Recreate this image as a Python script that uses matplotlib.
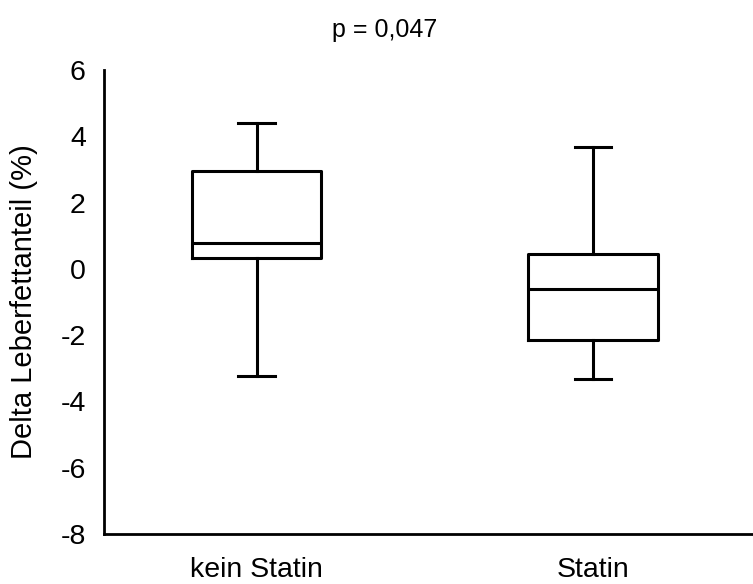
import matplotlib
matplotlib.use("Agg")

import matplotlib.pyplot as plt

plt.rcParams["font.family"] = ["Liberation Sans", "DejaVu Sans"]

groups = ["kein Statin", "Statin"]
whisker_low = [-3.23, -3.32]
q1 = [0.33, -2.14]
median = [0.78, -0.60]
q3 = [2.96, 0.45]
whisker_high = [4.41, 3.68]
y_ticks = [-8, -6, -4, -2, 0, 2, 4, 6]

stats = []
for i, name in enumerate(groups):
    stats.append({
        "label": name,
        "whislo": whisker_low[i],
        "q1": q1[i],
        "med": median[i],
        "q3": q3[i],
        "whishi": whisker_high[i],
        "fliers": [],
    })

fig = plt.figure(figsize=(7.53, 5.84), dpi=100)
ax = fig.add_axes([0.138, 0.086, 0.862, 0.794])

line = dict(color="black", linewidth=2.2)
ax.bxp(stats, positions=[1, 2], widths=0.384, capwidths=0.11,
       showfliers=False, boxprops=line, whiskerprops=line,
       capprops=line, medianprops=line)

ax.set_xlim(0.545, 2.476)
ax.set_ylim(-8, 6)
ax.set_yticks(y_ticks)
ax.set_yticklabels([str(t) for t in y_ticks])
ax.tick_params(axis="x", length=0, labelsize=20.5, pad=17)
ax.tick_params(axis="y", length=0, labelsize=20.5, pad=13)
ax.set_ylabel("Delta Leberfettanteil (%)", fontsize=21)
ax.yaxis.set_label_coords(-0.102, 0.5)
ax.set_title("p = 0,047", fontsize=18, x=0.433, pad=24)

for side in ["top", "right"]:
    ax.spines[side].set_visible(False)
for side in ["left", "bottom"]:
    ax.spines[side].set_linewidth(2.0)

fig.savefig("out.png", dpi=100)
plt.close(fig)
